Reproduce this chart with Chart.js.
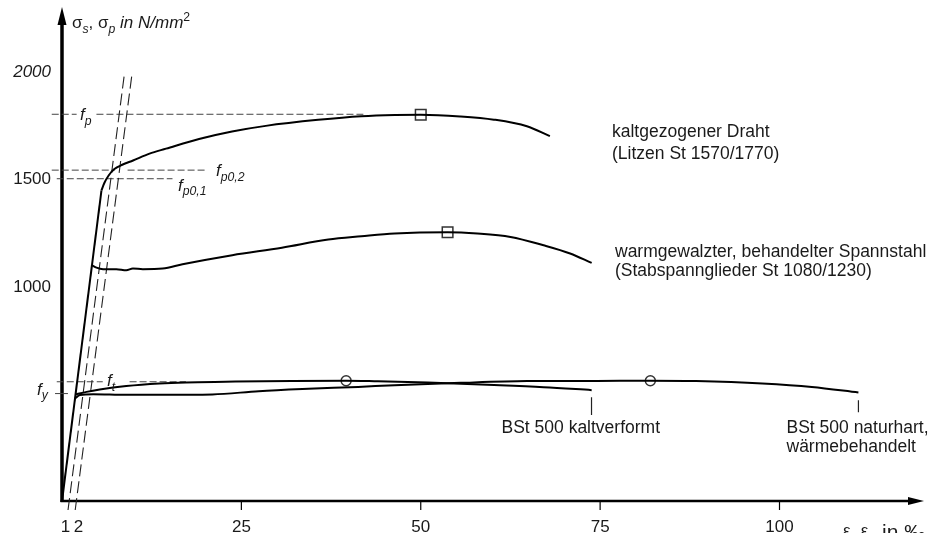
<!DOCTYPE html>
<html>
<head>
<meta charset="utf-8">
<script src="https://cdn.jsdelivr.net/npm/chart.js@4.4.1/dist/chart.umd.min.js"></script>
<style>
  html, body { margin: 0; padding: 0; background: #fff; }
  canvas { display: block; }
</style>
</head>
<body>
<canvas id="chart" width="932" height="533"></canvas>
<script>
// strain in permille, stress in N/mm2
const elasticX = [0, 5.5];
const elasticY = [0, 1446];

const drahtX = [5.5, 5.9, 6.5, 7.3, 8.4, 9.9, 12.2, 14.5, 19.1, 23.7, 28.4, 35.7, 41.7, 46.4, 50, 55.5, 60.2, 64.8, 68];
const drahtY = [1446, 1480, 1515, 1545, 1565, 1585, 1617, 1640, 1685, 1720, 1746, 1774, 1791, 1797, 1798, 1790, 1775, 1744, 1698];

const warmX = [4.17, 4.81, 5.72, 7.58, 8.96, 9.88, 11.26, 14.03, 16.8, 23.73, 30.65, 37.12, 41.73, 46.36, 53.74, 57.89, 62.51, 67.13, 70.82, 73.82];
const warmY = [1097, 1086, 1079, 1079, 1074, 1082, 1079, 1082, 1102, 1144, 1179, 1217, 1232, 1245, 1251, 1245, 1229, 1190, 1152, 1108];

const kaltX = [1.9, 3.42, 5.26, 8.96, 13.57, 17.27, 22.81, 32.04, 39.6, 44.04, 50.97, 60.21, 67.13, 73.82];
const kaltY = [496, 508, 519, 535, 547, 552, 555, 559, 560, 557, 551, 540, 530, 516];

const naturX = [1.8, 2.49, 4.34, 8.96, 13.57, 20.96, 27.42, 34.35, 41.27, 46.36, 55.58, 64.82, 74.52, 82, 88.37, 97.6, 104.5, 111];
const naturY = [477, 493, 497, 494, 494, 496, 511, 522, 531, 539, 550, 558, 559, 560, 558, 547, 531, 505];

// tensile strength marks
const squareX = [50, 53.74];
const squareY = [1798, 1251];
const circleX = [39.6, 82];
const circleY = [560, 560];

// 0.1 and 0.2 permille offset lines
const offset1X = [0.84, 8.73];
const offset2X = [1.84, 9.79];
const offsetY = [-42, 1996];

// reference levels and the x ranges of their dashed pieces
const fpY = 1800, fp02Y = 1540, fp01Y = 1500, ftY = 555, fyY = 500;
const fpSegs = [[-1.43, 2.04], [4.8, 42]];
const fp02Segs = [[-1.43, 7.34], [9.14, 20.2]];
const fp01Segs = [[-0.73, 15.4]];
const ftSegs = [[-0.73, 5.68], [9.42, 17.27]];
const fySegs = [[-0.97, 0.83]];

// leader lines to the BSt 500 labels
const leaderX = [73.8, 111];
const leaderTop = [483, 469];
const leaderBot = [400, 413];

const xTicks = [1, 2, 25, 50, 75, 100];
const yTicks = [1000, 1500, 2000];

const FONT = '"Liberation Sans", Arial, Helvetica, sans-serif';
const INK = '#1a1a1a';

function pts(xs, ys) {
  return xs.map((x, i) => ({ x: x, y: ys[i] }));
}

function curve(xs, ys) {
  return {
    data: pts(xs, ys), showLine: true, borderColor: '#000', borderWidth: 2,
    pointRadius: 0, cubicInterpolationMode: 'monotone', clip: false
  };
}

function dashed(segs, y, dash) {
  return segs.map(s => ({
    data: [{ x: s[0], y: y }, { x: s[1], y: y }], showLine: true,
    borderColor: '#444', borderWidth: 1, borderDash: dash, pointRadius: 0, clip: false
  }));
}

const datasets = [
  { data: pts(elasticX, elasticY), showLine: true, borderColor: '#000', borderWidth: 2, pointRadius: 0, tension: 0, clip: false },
  curve(drahtX, drahtY),
  curve(warmX, warmY),
  curve(kaltX, kaltY),
  curve(naturX, naturY),
  { data: pts(offset1X, offsetY), showLine: true, borderColor: '#222', borderWidth: 1.1, borderDash: [12, 5], pointRadius: 0, clip: false },
  { data: pts(offset2X, offsetY), showLine: true, borderColor: '#222', borderWidth: 1.1, borderDash: [12, 5], pointRadius: 0, clip: false },
  ...dashed(fpSegs, fpY, [7, 3]),
  ...dashed(fp02Segs, fp02Y, [7, 3]),
  ...dashed(fp01Segs, fp01Y, [7, 3]),
  ...dashed(ftSegs, ftY, [7, 3]),
  ...dashed(fySegs, fyY, []),
  ...leaderX.map((x, i) => ({
    data: [{ x: x, y: leaderTop[i] }, { x: x, y: leaderBot[i] }], showLine: true,
    borderColor: '#222', borderWidth: 1.2, pointRadius: 0
  })),
  { data: pts(squareX, squareY), pointStyle: 'rect', pointRadius: 7.5, pointBackgroundColor: '#fff', pointBorderColor: '#333', pointBorderWidth: 1.5 },
  { data: pts(circleX, circleY), pointStyle: 'circle', pointRadius: 5, pointBackgroundColor: '#fff', pointBorderColor: '#333', pointBorderWidth: 1.4 }
];

// text pieces: t = text, it = italic, sub / sup = index
function rich(ctx, parts, x, y, size) {
  parts.forEach(p => {
    const s = p.size || ((p.sub || p.sup) ? size * 0.72 : size);
    ctx.font = (p.it ? 'italic ' : '') + s + 'px ' + FONT;
    const dy = p.sub ? size * 0.28 : (p.sup ? -size * 0.42 : 0);
    ctx.fillText(p.t, x, y + dy);
    x += ctx.measureText(p.t).width;
  });
}

const decor = {
  id: 'decor',
  beforeDatasetsDraw(chart) {
    const { ctx, chartArea, scales } = chart;
    const x0 = scales.x.getPixelForValue(0);
    const y0 = scales.y.getPixelForValue(0);
    ctx.save();
    ctx.strokeStyle = '#000';
    ctx.fillStyle = '#000';
    // y axis with arrow
    ctx.lineWidth = 3.5;
    ctx.beginPath();
    ctx.moveTo(x0, y0 + 1);
    ctx.lineTo(x0, chartArea.top + 12);
    ctx.stroke();
    ctx.beginPath();
    ctx.moveTo(x0, chartArea.top - 2);
    ctx.lineTo(x0 - 4.5, chartArea.top + 16);
    ctx.lineTo(x0 + 4.5, chartArea.top + 16);
    ctx.closePath();
    ctx.fill();
    // x axis with arrow
    ctx.lineWidth = 2.5;
    ctx.beginPath();
    ctx.moveTo(x0 - 1.5, y0);
    ctx.lineTo(chartArea.right - 10, y0);
    ctx.stroke();
    ctx.beginPath();
    ctx.moveTo(chartArea.right + 1, y0);
    ctx.lineTo(chartArea.right - 15, y0 - 4);
    ctx.lineTo(chartArea.right - 15, y0 + 4);
    ctx.closePath();
    ctx.fill();
    // x ticks
    ctx.lineWidth = 1.2;
    xTicks.filter(v => v >= 25).forEach(v => {
      const px = scales.x.getPixelForValue(v);
      ctx.beginPath();
      ctx.moveTo(px, y0);
      ctx.lineTo(px, y0 + 9);
      ctx.stroke();
    });
    ctx.restore();
  },
  afterDatasetsDraw(chart) {
    const { ctx, scales } = chart;
    const X = v => scales.x.getPixelForValue(v);
    const Y = v => scales.y.getPixelForValue(v);
    const x0 = X(0);
    ctx.save();
    ctx.fillStyle = INK;
    ctx.textBaseline = 'alphabetic';

    // x tick labels
    ctx.font = '17px ' + FONT;
    xTicks.forEach(v => {
      let px = X(v);
      if (v === 1) { ctx.textAlign = 'right'; px += 1; }
      else if (v === 2) { ctx.textAlign = 'left'; px -= 2.5; }
      else ctx.textAlign = 'center';
      ctx.fillText(String(v), px, 532);
    });

    // y tick labels
    ctx.textAlign = 'right';
    ctx.textBaseline = 'middle';
    yTicks.forEach(v => {
      ctx.font = (v === 2000 ? 'italic ' : '') + '17px ' + FONT;
      ctx.fillText(String(v), x0 - 11, Y(v) + 1);
    });

    ctx.textAlign = 'left';
    ctx.textBaseline = 'alphabetic';

    // axis titles
    rich(ctx, [{ t: 'σ' }, { t: 's', it: 1, sub: 1 }, { t: ', σ' }, { t: 'p', it: 1, sub: 1 },
      { t: ' in N/mm', it: 1 }, { t: '2', sup: 1 }], x0 + 10, 28, 17);
    rich(ctx, [{ t: 'ε', size: 17 }, { t: 's', sub: 1, size: 11 }, { t: ' ε', size: 17 }, { t: 'p', sub: 1, size: 11 }],
      843, 536, 15);
    ctx.font = '21px ' + FONT;
    ctx.fillText('in ‰', 882, 539);

    // reference level labels
    rich(ctx, [{ t: 'f', it: 1 }, { t: 'p', it: 1, sub: 1 }], 80, Y(fpY) + 6, 17);
    rich(ctx, [{ t: 'f', it: 1 }, { t: 'p0,2', it: 1, sub: 1 }], 216, Y(fp02Y) + 6, 17);
    rich(ctx, [{ t: 'f', it: 1 }, { t: 'p0,1', it: 1, sub: 1 }], 178, Y(fp01Y) + 12, 17);
    rich(ctx, [{ t: 'f', it: 1 }, { t: 't', it: 1, sub: 1 }], 107, Y(ftY) + 4, 17);
    rich(ctx, [{ t: 'f', it: 1 }, { t: 'y', it: 1, sub: 1 }], 37, Y(fyY) + 1, 17);

    // curve labels
    ctx.font = '17.5px ' + FONT;
    ctx.fillText('kaltgezogener Draht', 612, 137);
    ctx.fillText('(Litzen St 1570/1770)', 612, 159);
    ctx.fillText('warmgewalzter, behandelter Spannstahl', 615, 256.5);
    ctx.fillText('(Stabspannglieder St 1080/1230)', 615, 275.5);
    ctx.fillText('BSt 500 kaltverformt', 501.5, 433);
    ctx.fillText('BSt 500 naturhart,', 786.5, 433);
    ctx.fillText('wärmebehandelt', 786.5, 452);
    ctx.restore();
  }
};

new Chart(document.getElementById('chart'), {
  type: 'scatter',
  data: { datasets: datasets },
  options: {
    responsive: false,
    animation: false,
    devicePixelRatio: 1,
    layout: { padding: { left: 62, right: 4, top: 8, bottom: 32 } },
    scales: {
      x: { type: 'linear', min: 0, max: 120, display: false },
      y: { type: 'linear', min: 0, max: 2290, display: false }
    },
    plugins: { legend: { display: false }, tooltip: { enabled: false } }
  },
  plugins: [decor]
});
</script>
</body>
</html>
